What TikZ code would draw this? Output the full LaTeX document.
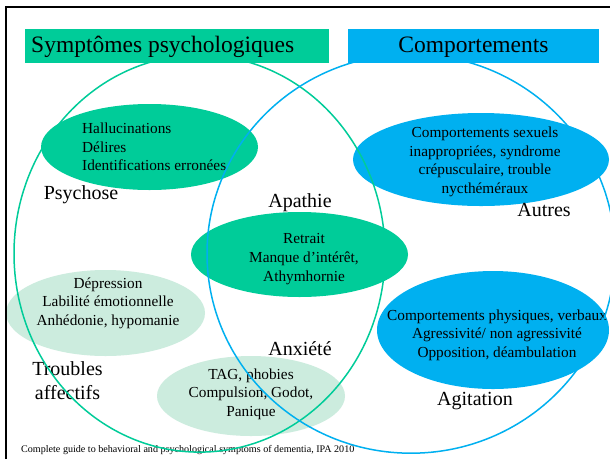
\documentclass[tikz,border=0pt]{standalone}
\usepackage{fontspec}
\setmainfont{Liberation Serif}
\usetikzlibrary{shapes.geometric}
\definecolor{vgreen}{RGB}{0,204,153}
\definecolor{vblue}{RGB}{0,176,240}
\definecolor{lgreen}{RGB}{204,236,222}
\tikzset{
  blob/.style={ellipse, inner sep=0pt, outer sep=0pt},
  bigring/.style={ellipse, inner sep=0pt, line width=1.5pt},
  small/.style={inner sep=0pt, font=\fontsize{15.3}{18.6}\selectfont, align=center},
  lab/.style={inner sep=0pt, font=\fontsize{20}{24}\selectfont, align=center},
  head/.style={inner sep=0pt, font=\fontsize{23.5}{28}\selectfont},
  headbox/.style={inner sep=0pt, outer sep=0pt, minimum height=34pt}
}
\begin{document}
\begin{tikzpicture}[x=1pt,y=-1pt]
\useasboundingbox (0,0) rectangle (610,459);
\fill[white] (0,0) rectangle (610,459);
% filled ellipses
\node[blob, fill=vgreen, minimum width=217pt, minimum height=86pt] (hallE) at (149.5,147) {};
\node[blob, fill=vgreen, minimum width=217pt, minimum height=85pt] (retE) at (299.5,254.5) {};
\node[blob, fill=vblue, minimum width=256pt, minimum height=93pt] (sexE) at (481,159.5) {};
\node[blob, fill=lgreen, minimum width=199pt, minimum height=86pt] (depE) at (105.5,313) {};
\node[blob, fill=lgreen, minimum width=188pt, minimum height=80pt] (tagE) at (251,396) {};
\node[blob, fill=vblue, minimum width=232pt, minimum height=118pt] (agiE) at (493,330) {};
% texts in ellipses
\node[small, align=left, anchor=west] (hallT) at (82,147) {Hallucinations\\Délires\\Identifications erronées};
\node[small] (retT) at (304,259) {Retrait\\Manque d’intérêt,\\Athymhornie};
\node[small] (sexT) at (485,162) {Comportements sexuels\\inappropriées, syndrome\\crépusculaire, trouble\\nycthéméraux};
\node[small] (depT) at (108,303) {Dépression\\Labilité émotionnelle\\Anhédonie, hypomanie};
\node[small] (tagT) at (251,394) {TAG, phobies\\Compulsion, Godot,\\Panique};
\node[small] (agiT) at (497,335) {Comportements physiques, verbaux\\Agressivité/ non agressivité\\Opposition, déambulation};
% labels
\node[lab] (psychose) at (81,195) {Psychose};
\node[lab] (apathie) at (300,203) {Apathie};
\node[lab] (autres) at (544,210) {Autres};
\node[lab] (troubles) at (67.5,381) {Troubles\\affectifs};
\node[lab] (anxiete) at (300,349) {Anxiété};
\node[lab] (agitation) at (475,401) {Agitation};
\node[inner sep=0pt, anchor=west, font=\fontsize{10.1}{12}\selectfont] (cite) at (21,450) {Complete guide to behavioral and psychological symptoms of dementia, IPA 2010};
% big rings
\node[bigring, draw=vgreen, minimum width=371pt, minimum height=397pt] (psyR) at (199.5,253.6) {};
\node[bigring, draw=vblue, minimum width=408pt, minimum height=399pt] (compR) at (411,253.7) {};
% header boxes
\node[headbox, fill=vgreen, minimum width=304pt] (psyH) at (177,46) {};
\node[head, anchor=west] (psyHT) at (31,47) {Symptômes psychologiques};
\node[headbox, fill=vblue, minimum width=251pt] (compH) at (473.5,46) {};
\node[head] (compHT) at (473.5,47) {Comportements};
% frame
\draw[line width=2pt] (6,459) -- (6,7) -- (610,7);
\end{tikzpicture}
\end{document}
